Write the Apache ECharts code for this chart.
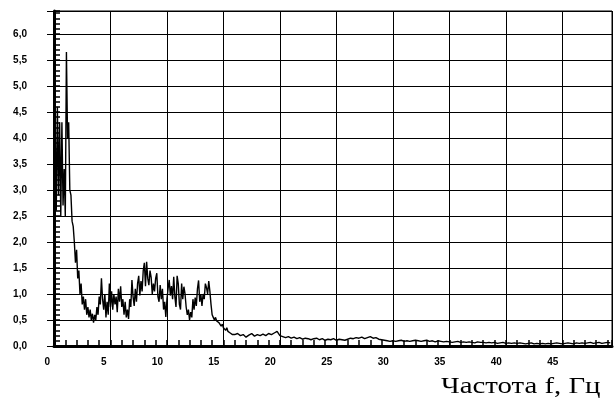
<!DOCTYPE html>
<html>
<head>
<meta charset="utf-8">
<script src="https://cdn.jsdelivr.net/npm/echarts@6/dist/echarts.min.js"></script>
<style>
  html, body { margin: 0; padding: 0; background: #fff; }
  #chart { width: 615px; height: 399px; }
</style>
</head>
<body>
<div id="chart"></div>
<script>
// спектр: три участка с разным шагом по частоте
var lowStart = 0.0, lowStep = 0.1;
var lowValues = [
  3.0, 4.25, 2.6, 4.6, 2.9, 4.3, 2.5, 4.3, 2.7, 3.4,
  2.5, 5.65, 4.0, 4.3, 3.0, 2.9, 2.4, 2.3, 2.0, 1.6,
  1.85, 1.3, 1.45, 1.0, 1.2, 0.8, 0.95, 0.7, 0.9, 0.6,
  0.75
];

var midStart = 3.1, midStep = 0.1;
var midValues = [
  0.55, 0.7, 0.5, 0.62, 0.45, 0.6, 0.5, 0.75, 0.6, 0.95,
  0.8, 1.3, 0.9, 0.7, 1.0, 0.55, 0.85, 0.6, 1.2, 0.75,
  1.05, 0.7, 1.0, 0.8, 0.95, 0.65, 1.1, 0.85, 1.15, 0.75,
  0.9, 0.6, 0.85, 0.55, 0.7, 0.52, 0.9, 0.75, 1.27, 0.95,
  0.77, 1.1, 0.85, 1.2, 1.35, 0.97, 1.25, 1.05, 1.45, 1.6,
  1.15, 1.62, 1.3, 1.17, 1.45, 1.32, 1.0, 1.2, 1.05, 1.3,
  1.4, 0.95, 0.85, 1.17, 0.9, 1.1, 0.7, 0.85, 0.56, 0.9,
  1.1, 1.27, 0.97, 1.15, 0.9, 1.33, 0.95, 0.75, 1.35, 1.2,
  0.8, 0.7, 1.2, 0.9, 1.14, 1.0, 0.75, 0.6, 0.7, 0.5,
  0.65, 0.55, 0.9, 0.7, 0.93, 0.77, 1.1, 1.26, 0.85, 1.0,
  0.77, 1.0, 0.9, 1.2, 1.12, 1.0, 1.25, 1.05, 0.8, 0.6,
  0.55, 0.5, 0.55, 0.48, 0.5, 0.45, 0.45, 0.38, 0.42, 0.35,
  0.38, 0.3, 0.35, 0.28, 0.3, 0.25, 0.27, 0.22, 0.25, 0.22
];

var tailStart = 16.25, tailStep = 0.25;
var tailValues = [
  0.24, 0.2, 0.22, 0.17, 0.21, 0.24, 0.19, 0.22, 0.2, 0.23, 0.2, 0.24, 0.22, 0.25, 0.28,
  0.2, 0.18, 0.16, 0.18, 0.15, 0.17, 0.14, 0.16, 0.13, 0.15, 0.14, 0.12,
  0.14, 0.15, 0.12, 0.14, 0.11, 0.13, 0.12, 0.14, 0.11, 0.13, 0.12, 0.11,
  0.13, 0.15, 0.14, 0.16, 0.15, 0.17, 0.14, 0.16, 0.18, 0.15, 0.16, 0.13,
  0.12, 0.11, 0.1, 0.09, 0.1, 0.09, 0.1, 0.11, 0.09, 0.1, 0.09, 0.1,
  0.11, 0.1, 0.09, 0.1, 0.11, 0.09, 0.1, 0.08, 0.1, 0.09, 0.08, 0.09,
  0.08, 0.07, 0.08, 0.09, 0.07, 0.08, 0.07, 0.08, 0.07, 0.06, 0.08, 0.07,
  0.07, 0.06, 0.07, 0.06, 0.07, 0.05, 0.06, 0.07, 0.05, 0.06, 0.05, 0.06,
  0.05, 0.06, 0.05, 0.04, 0.05, 0.06, 0.04, 0.05, 0.04, 0.05, 0.04, 0.05,
  0.04, 0.05, 0.06, 0.05, 0.04, 0.05, 0.06, 0.05, 0.04, 0.06, 0.05, 0.06,
  0.05, 0.06, 0.07, 0.05, 0.06, 0.07, 0.05, 0.06, 0.07, 0.06
];

var xTitle = 'Частота f, Гц';

function pairs(start, step, values) {
  return values.map(function (v, i) {
    return [+(start + i * step).toFixed(3), v];
  });
}

var spectrum = []
  .concat(pairs(lowStart, lowStep, lowValues))
  .concat(pairs(midStart, midStep, midValues))
  .concat(pairs(tailStart, tailStep, tailValues));

function onStep(v, step) {
  return Math.abs(v / step - Math.round(v / step)) < 1e-6;
}

var chart = echarts.init(document.getElementById('chart'), null, { renderer: 'canvas' });

var option = {
  backgroundColor: '#ffffff',
  animation: false,
  grid: {
    left: 54,
    right: 1,
    top: 11,
    bottom: 53,
    show: true,
    borderColor: '#000',
    borderWidth: 1
  },
  xAxis: {
    type: 'value',
    min: 0,
    max: 49.4,
    interval: 5,
    axisLine: { show: true, lineStyle: { color: '#000', width: 3 } },
    axisTick: { show: true, inside: true, length: 6, lineStyle: { color: '#000', width: 1.5 } },
    minorTick: { show: true, splitNumber: 5, length: 6, lineStyle: { color: '#000', width: 1.5 } },
    splitLine: { show: true, lineStyle: { color: '#000', width: 1 } },
    axisLabel: {
      color: '#000',
      fontFamily: 'Liberation Sans, Arial, sans-serif',
      fontWeight: 'bold',
      fontSize: 10,
      margin: 11,
      align: 'right',
      padding: [0, 4, 0, 0],
      formatter: function (v) { return onStep(v, 5) ? String(v) : ''; }
    }
  },
  yAxis: [{
    type: 'value',
    min: 0,
    max: 6.44,
    interval: 0.5,
    axisLine: { show: true, lineStyle: { color: '#000', width: 3 } },
    axisTick: { show: true, inside: true, length: 6, lineStyle: { color: '#000', width: 1.5 } },
    minorTick: { show: true, splitNumber: 5, length: 6, lineStyle: { color: '#000', width: 1.5 } },
    splitLine: { show: true, lineStyle: { color: '#000', width: 1 } },
    axisLabel: {
      color: '#000',
      fontFamily: 'Liberation Sans, Arial, sans-serif',
      fontWeight: 'bold',
      fontSize: 10,
      margin: 27,
      formatter: function (v) {
        return onStep(v, 0.5) ? v.toFixed(1).replace('.', ',') : '';
      }
    }
  }, {
    // короткие засечки слева от оси
    type: 'value',
    position: 'left',
    min: 0,
    max: 6.44,
    interval: 0.5,
    axisLine: { show: false },
    axisTick: { show: true, inside: false, length: 7, lineStyle: { color: '#000', width: 1 } },
    splitLine: { show: false },
    axisLabel: { show: false }
  }],
  graphic: [{
    type: 'text',
    x: 441,
    y: 387,
    scaleX: 1.2,
    style: {
      text: xTitle,
      fill: '#000',
      font: '24px "Liberation Serif", "Times New Roman", serif',
      textVerticalAlign: 'middle'
    }
  }],
  series: [{
    type: 'line',
    data: spectrum,
    showSymbol: false,
    symbol: 'none',
    lineStyle: { color: '#000', width: 1.4 }
  }]
};

chart.setOption(option);
</script>
</body>
</html>
